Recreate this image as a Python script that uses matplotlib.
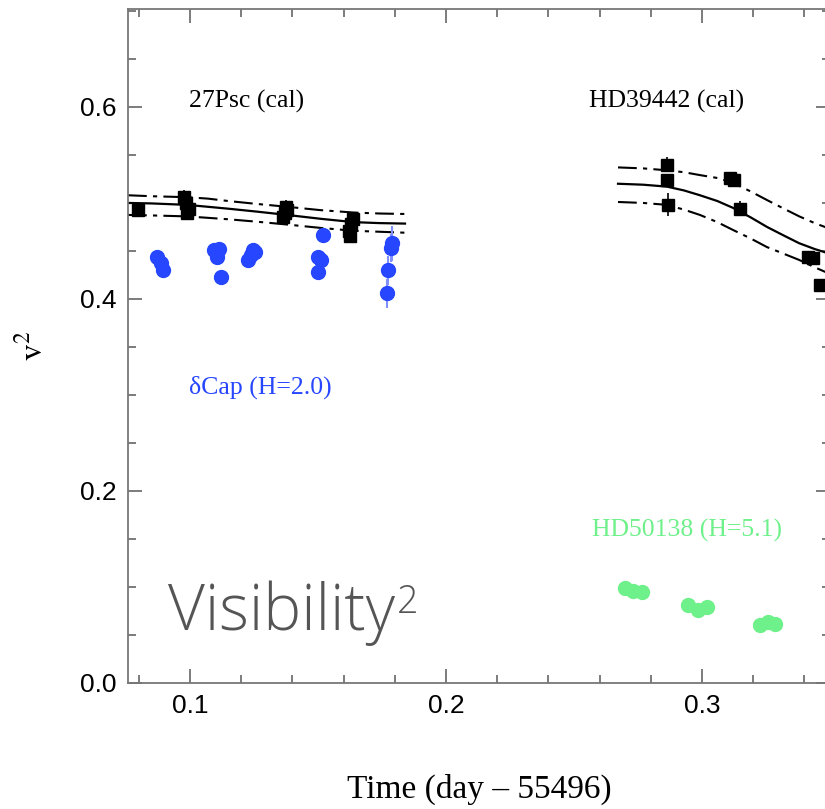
import matplotlib
matplotlib.use("Agg")
import matplotlib.pyplot as plt
from matplotlib.ticker import MultipleLocator

# =========================
# DATA
# =========================
# 27Psc (calibrator)
PSC_T = [0.0797, 0.0975, 0.0985, 0.0995, 0.0990, 0.1365, 0.1370, 0.1375, 0.1380,
         0.1620, 0.1625, 0.1630, 0.1635]
PSC_V2 = [0.493, 0.506, 0.500, 0.494, 0.490, 0.485, 0.490, 0.496, 0.493,
          0.471, 0.466, 0.478, 0.483]
PSC_ERR = [0.006, 0.007, 0.006, 0.006, 0.006, 0.006, 0.006, 0.007, 0.006,
           0.007, 0.008, 0.006, 0.006]

# HD39442 (calibrator)
HD39_T = [0.2863, 0.2865, 0.2867, 0.3110, 0.3125, 0.3150, 0.3414, 0.3434, 0.3460]
HD39_V2 = [0.540, 0.524, 0.498, 0.526, 0.524, 0.494, 0.444, 0.443, 0.415]
HD39_ERR = [0.008, 0.006, 0.012, 0.006, 0.006, 0.008, 0.006, 0.006, 0.006]

# delta Cap
DCAP_T = [0.0870, 0.0885, 0.0895, 0.1095, 0.1105, 0.1112, 0.1120, 0.1227, 0.1237,
          0.1246, 0.1255, 0.1520, 0.1500, 0.1512, 0.1500, 0.1790, 0.1785, 0.1775, 0.1770]
DCAP_V2 = [0.444, 0.437, 0.430, 0.451, 0.444, 0.452, 0.423, 0.441, 0.446,
           0.451, 0.449, 0.467, 0.444, 0.441, 0.428, 0.458, 0.453, 0.430, 0.406]
DCAP_ERR = [0.005, 0.005, 0.005, 0.005, 0.005, 0.005, 0.006, 0.005, 0.005,
            0.005, 0.005, 0.006, 0.006, 0.006, 0.006, 0.018, 0.015, 0.015, 0.015]

# HD50138
HD50_T = [0.2700, 0.2730, 0.2766, 0.2945, 0.2984, 0.3020, 0.3227, 0.3258, 0.3285]
HD50_V2 = [0.099, 0.096, 0.095, 0.081, 0.076, 0.079, 0.060, 0.0635, 0.061]

# calibrator model curves (solid = expected, dash-dot = +/- 1 sigma)
PSC_MODEL_T = [0.0758, 0.0850, 0.0988, 0.1070, 0.1150, 0.1260, 0.1380, 0.1510, 0.1640, 0.1740, 0.1840]
PSC_MODEL = [0.500, 0.4995, 0.498, 0.496, 0.494, 0.491, 0.4875, 0.4835, 0.480, 0.479, 0.4785]
PSC_UPPER = [0.508, 0.507, 0.506, 0.5045, 0.502, 0.499, 0.496, 0.4925, 0.490, 0.489, 0.4885]
PSC_LOWER = [0.4875, 0.487, 0.486, 0.4845, 0.483, 0.4805, 0.4775, 0.474, 0.471, 0.470, 0.469]

HD39_MODEL_T = [0.2672, 0.2770, 0.2863, 0.2930, 0.2992, 0.3060, 0.3120, 0.3190,
                0.3254, 0.3320, 0.3380, 0.3440, 0.3500]
HD39_MODEL = [0.520, 0.519, 0.517, 0.513, 0.508, 0.502, 0.495, 0.485,
              0.475, 0.466, 0.458, 0.452, 0.447]
HD39_UPPER = [0.537, 0.536, 0.534, 0.532, 0.529, 0.526, 0.521, 0.512,
              0.503, 0.494, 0.486, 0.479, 0.473]
HD39_LOWER = [0.501, 0.500, 0.498, 0.493, 0.4875, 0.480, 0.472, 0.463,
              0.454, 0.447, 0.4406, 0.433, 0.426]

# =========================
# FIGURE
# =========================
plt.rcParams["mathtext.fontset"] = "stix"

FIG = plt.figure(figsize=(8.25, 8.09), dpi=100)
AX = FIG.add_axes([128 / 825, 126 / 809, 702 / 825, 674 / 809])

DASHDOT = (0, (9, 3, 2, 3))
for MT, M, U, L in [(PSC_MODEL_T, PSC_MODEL, PSC_UPPER, PSC_LOWER),
                    (HD39_MODEL_T, HD39_MODEL, HD39_UPPER, HD39_LOWER)]:
    AX.plot(MT, M, color="black", lw=1.6)
    AX.plot(MT, U, color="black", lw=1.5, linestyle=DASHDOT)
    AX.plot(MT, L, color="black", lw=1.5, linestyle=DASHDOT)

AX.errorbar(DCAP_T, DCAP_V2, yerr=DCAP_ERR, fmt="o", color="#2646ff",
            ecolor="#8090ff", elinewidth=1.5, capsize=0, markersize=10, zorder=3)
AX.plot(HD50_T, HD50_V2, "o", color="#6ef08a", markersize=10, zorder=3)
AX.errorbar(PSC_T + HD39_T, PSC_V2 + HD39_V2, yerr=PSC_ERR + HD39_ERR, fmt="s",
            color="black", elinewidth=1.2, capsize=0, markersize=9, zorder=4)

# =========================
# LABELS
# =========================
SERIF = "Liberation Serif"
AX.text(0.0995, 0.599, "27Psc (cal)", family=SERIF, fontsize=18.5)
AX.text(0.2560, 0.599, "HD39442 (cal)", family=SERIF, fontsize=18.5)
AX.text(0.0995, 0.301, "δCap (H=2.0)", family=SERIF, fontsize=18.5, color="#2646ff")
AX.text(0.2570, 0.153, "HD50138 (H=5.1)", family=SERIF, fontsize=18.5, color="#6ef08a")

VIS = AX.text(0.0916, 0.0552, "Visibility", family=["Open Sans", "Lato"], fontweight="light",
              fontsize=46, color="#555555")
AX.annotate("2", xy=(1.0, 0.5), xycoords=VIS, xytext=(1, 0), textcoords="offset points",
            family=["Open Sans", "Lato"], fontweight="light", fontsize=27, color="#555555",
            va="baseline")

AX.set_xlabel("Time (day – 55496)", family=SERIF, fontsize=24, labelpad=40)
AX.set_ylabel(r"$\mathrm{v}^2$", fontsize=24, labelpad=22)

# =========================
# AXES
# =========================
AX.set_xlim(0.0758, 0.35)
AX.set_ylim(0.0, 0.702)
AX.xaxis.set_major_locator(MultipleLocator(0.1))
AX.xaxis.set_minor_locator(MultipleLocator(0.02))
AX.yaxis.set_major_locator(MultipleLocator(0.2))
AX.yaxis.set_minor_locator(MultipleLocator(0.05))
AX.xaxis.set_major_formatter(plt.FuncFormatter(lambda V, P: f"{V:.1f}"))
AX.yaxis.set_major_formatter(plt.FuncFormatter(lambda V, P: f"{V:.1f}"))
AX.tick_params(which="both", direction="in", top=True, right=True, color="#666666", width=1.2)
AX.tick_params(which="major", length=10, labelsize=19, pad=8)
AX.tick_params(which="minor", length=6)
for LBL in AX.get_xticklabels() + AX.get_yticklabels():
    LBL.set_family("Liberation Sans")
for SP in AX.spines.values():
    SP.set_color("#777777")
    SP.set_linewidth(1.3)

FIG.savefig("out.png", dpi=100)
